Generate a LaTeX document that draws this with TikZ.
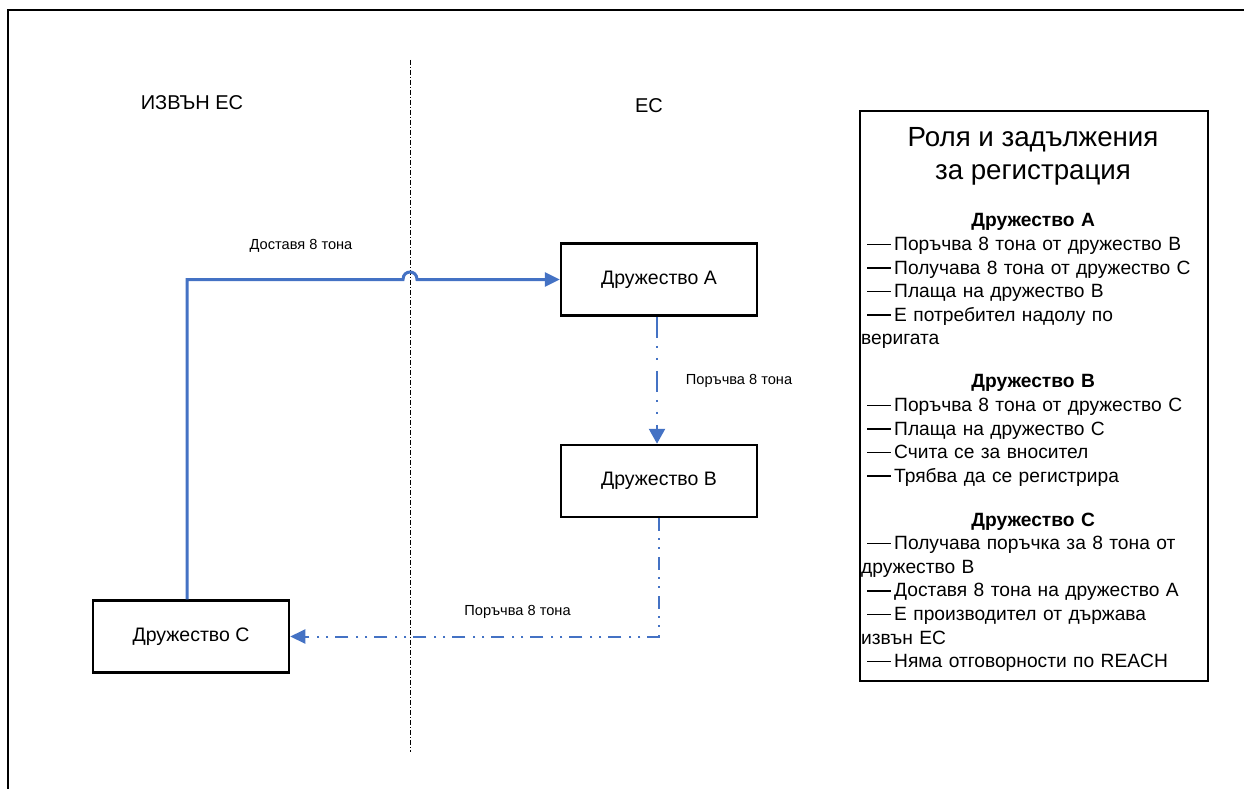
\documentclass[tikz,border=0pt]{standalone}
\usepackage{fontspec}
\setmainfont{Liberation Sans}
\usetikzlibrary{arrows.meta}
\definecolor{flowblue}{HTML}{4472C4}
% long dash that opens each item of the legend
\newcommand{\legdash}{\leavevmode\hspace*{6pt}\rule[5.4pt]{24pt}{1.5pt}\hspace*{3pt}}
\begin{document}
\begin{tikzpicture}[x=1pt,y=-1pt,
  company/.style={draw=black, line width=2.5pt, minimum width=196pt, minimum height=72pt,
    inner sep=0pt, font=\fontsize{19.5}{23}\selectfont},
  zone/.style={font=\fontsize{20}{24}\selectfont},
  flowlabel/.style={font=\fontsize{14.6}{17}\selectfont},
  supply/.style={draw=flowblue, line width=3pt, -{Triangle[length=15pt,width=14pt]}},
  order/.style={draw=flowblue, line width=2.5pt,
    dash pattern=on 21pt off 8pt on 2pt off 10pt on 2pt off 11pt,
    -{Triangle[length=15pt,width=16pt]}},
  orderthin/.style={draw=flowblue, line width=2pt,
    dash pattern=on 13pt off 7pt on 2pt off 7pt on 2pt off 8pt,
    -{Triangle[length=15pt,width=14pt]}},
  divider/.style={draw=black, line width=0.9pt, dash pattern=on 5pt off 2pt on 1pt off 2pt},
  legendbox/.style={draw=black, line width=2pt, minimum width=348pt, minimum height=570pt,
    inner sep=0pt, anchor=north west},
  legendtitle/.style={font=\fontsize{27.7}{33}\selectfont, align=center},
  legendblock/.style={anchor=north west, text width=344pt, inner sep=0pt, align=left,
    font=\fontsize{19.2}{23.6}\selectfont}
]
\useasboundingbox (0,0) rectangle (1244,789);
\clip (0,0) rectangle (1244,789);

% outer frame of the sheet
\draw[line width=2pt] (8,10) rectangle (1300,850);

% border between the two regions
\coordinate (divtop) at (410,60);
\coordinate (divbot) at (410,752);
\draw[divider] (divtop) -- (divbot);

% region captions
\node[zone] (outside) at (192,103) {ИЗВЪН ЕС};
\node[zone] (inside) at (649,106) {ЕС};

% companies
\node[company] (A) at (659,279.5) {Дружество А};
\node[company] (B) at (659,481) {Дружество В};
\node[company] (C) at (191,636.5) {Дружество С};

% delivery from C to A, hopping over the border line
\coordinate (hop) at (divtop |- A.west);
\draw[supply] ([xshift=-4pt]C.north) |- ([xshift=-7pt]hop)
  .. controls ([xshift=-7pt,yshift=10pt]hop) and ([xshift=7pt,yshift=10pt]hop) .. ([xshift=7pt]hop)
  -- (A.west);
\node[flowlabel] (lblsupply) at (301,246) {Доставя 8 тона};

% orders
\draw[order] ([xshift=-2pt]A.south) -- ([xshift=-2pt]B.north);
\node[flowlabel] (lblorderAB) at (739,381) {Поръчва 8 тона};
\draw[orderthin] (B.south) |- (C.east);
\node[flowlabel] (lblorderBC) at (517.5,612) {Поръчва 8 тона};

% legend
\node[legendbox] (legend) at (859,110) {};
\node[legendtitle] (ltitle) at (1033,156.5) {Роля и задължения\\за регистрация};
\node[legendblock] (lA) at (861,213.5) {%
{\centering\bfseries Дружество А\par}
\legdash Поръчва 8 тона от дружество В\\
\legdash Получава 8 тона от дружество С\\
\legdash Плаща на дружество В\\
\legdash Е потребител надолу по\\
веригата};
\node[legendblock] (lB) at (861,374.5) {%
{\centering\bfseries Дружество В\par}
\legdash Поръчва 8 тона от дружество С\\
\legdash Плаща на дружество С\\
\legdash Счита се за вносител\\
\legdash Трябва да се регистрира};
\node[legendblock] (lC) at (861,512.5) {%
{\centering\bfseries Дружество С\par}
\legdash Получава поръчка за 8 тона от\\
дружество В\\
\legdash Доставя 8 тона на дружество А\\
\legdash Е производител от държава\\
извън ЕС\\
\legdash Няма отговорности по REACH};
\end{tikzpicture}
\end{document}
